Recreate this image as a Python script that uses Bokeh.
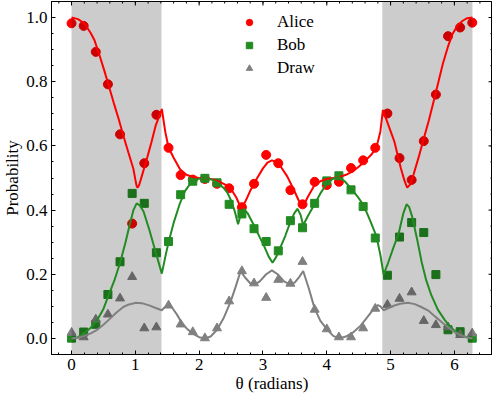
import math
from bokeh.plotting import figure
from bokeh.models import Range1d, FixedTicker, PrintfTickFormatter
from bokeh.embed import file_html
from bokeh.resources import INLINE

# ---------------- data ----------------
theta = [0.00, 0.19, 0.38, 0.57, 0.76, 0.95, 1.14, 1.33, 1.52, 1.71, 1.90, 2.09,
         2.28, 2.47, 2.67, 2.86, 3.05, 3.24, 3.43, 3.62, 3.81, 4.00, 4.19, 4.38,
         4.57, 4.76, 4.95, 5.14, 5.33, 5.52, 5.71, 5.90, 6.09, 6.28]

alice_pts = [0.982, 0.974, 0.893, 0.792, 0.636, 0.358, 0.546, 0.697, 0.594, 0.509,
             0.495, 0.497, 0.482, 0.468, 0.409, 0.482, 0.572, 0.546, 0.462, 0.418,
             0.488, 0.478, 0.488, 0.531, 0.555, 0.594, 0.701, 0.562, 0.494, 0.615,
             0.760, 0.942, 0.969, 0.984]

bob_pts = [0.001, 0.020, 0.044, 0.137, 0.239, 0.452, 0.421, 0.267, 0.302, 0.448,
           0.490, 0.499, 0.485, 0.418, 0.388, 0.342, 0.302, 0.273, 0.367, 0.345,
           0.421, 0.491, 0.507, 0.463, 0.411, 0.313, 0.197, 0.316, 0.361, 0.330,
           0.199, 0.027, 0.021, 0.001]

draw_pts = [0.018, 0.004, 0.059, 0.075, 0.125, 0.192, 0.032, 0.035, 0.103, 0.044,
            0.020, 0.001, 0.032, 0.116, 0.210, 0.172, 0.127, 0.183, 0.171, 0.239,
            0.090, 0.029, 0.004, 0.004, 0.032, 0.093, 0.105, 0.124, 0.144, 0.055,
            0.042, 0.035, 0.011, 0.016]

alice_curve_x = [0.0, 0.1, 0.2, 0.3, 0.36, 0.43, 0.51, 0.58, 0.66, 0.74, 0.81, 0.89,
                 0.97, 1.0, 1.02, 1.035, 1.06, 1.1, 1.17, 1.25, 1.32, 1.415, 1.47,
                 1.52, 1.6, 1.7, 1.8, 1.9, 2.0, 2.1, 2.2, 2.3, 2.4, 2.5, 2.58, 2.66,
                 2.72, 2.8, 2.9, 3.0, 3.07, 3.14, 3.21, 3.28, 3.38, 3.48, 3.56, 3.62,
                 3.7, 3.8, 3.9, 4.0, 4.1, 4.2, 4.3, 4.4, 4.5, 4.6, 4.7, 4.78, 4.84,
                 4.88, 4.96, 5.06, 5.16, 5.22, 5.26, 5.3, 5.36, 5.44, 5.52, 5.6, 5.67,
                 5.75, 5.82, 5.9, 5.97, 6.05, 6.13, 6.2, 6.283]
alice_curve_y = [1.0, 0.995, 0.982, 0.952, 0.929, 0.888, 0.837, 0.79, 0.735, 0.683,
                 0.633, 0.58, 0.528, 0.495, 0.475, 0.47, 0.478, 0.505, 0.552, 0.61,
                 0.664, 0.715, 0.643, 0.595, 0.563, 0.527, 0.51, 0.503, 0.50, 0.499,
                 0.496, 0.49, 0.48, 0.466, 0.44, 0.405, 0.425, 0.46, 0.497, 0.53,
                 0.548, 0.555, 0.55, 0.535, 0.505, 0.465, 0.43, 0.408, 0.44, 0.475,
                 0.49, 0.497, 0.50, 0.503, 0.51, 0.52, 0.535, 0.553, 0.573, 0.597,
                 0.645, 0.712, 0.668, 0.613, 0.531, 0.49, 0.47, 0.478, 0.511, 0.565,
                 0.623, 0.68, 0.735, 0.80, 0.857, 0.91, 0.949, 0.975, 0.99, 0.998, 1.0]

bob_curve_x = [0.0, 0.1, 0.2, 0.3, 0.4, 0.5, 0.58, 0.67, 0.76, 0.84, 0.91, 0.97, 1.02,
               1.07, 1.13, 1.22, 1.31, 1.415, 1.47, 1.52, 1.6, 1.7, 1.78, 1.86, 1.93,
               2.0, 2.1, 2.2, 2.3, 2.38, 2.44, 2.5, 2.56, 2.61, 2.65, 2.7, 2.76, 2.87,
               2.95, 3.02, 3.09, 3.15, 3.21, 3.28, 3.35, 3.43, 3.49, 3.54, 3.59, 3.63,
               3.7, 3.81, 3.9, 3.99, 4.09, 4.19, 4.28, 4.37, 4.48, 4.58, 4.68, 4.78,
               4.84, 4.89, 4.96, 5.03, 5.13, 5.2, 5.25, 5.29, 5.34, 5.42, 5.49, 5.56,
               5.64, 5.74, 5.85, 5.95, 6.05, 6.17, 6.283]
bob_curve_y = [0.0, 0.004, 0.016, 0.033, 0.057, 0.092, 0.134, 0.18, 0.235, 0.295,
               0.353, 0.40, 0.421, 0.415, 0.395, 0.338, 0.275, 0.202, 0.255, 0.30,
               0.36, 0.422, 0.46, 0.482, 0.492, 0.498, 0.50, 0.495, 0.484, 0.47,
               0.455, 0.43, 0.395, 0.356, 0.385, 0.404, 0.39, 0.348, 0.315, 0.287,
               0.255, 0.236, 0.255, 0.287, 0.32, 0.363, 0.39, 0.404, 0.385, 0.353,
               0.38, 0.419, 0.452, 0.48, 0.497, 0.503, 0.49, 0.47, 0.443, 0.414,
               0.367, 0.317, 0.26, 0.20, 0.235, 0.275, 0.33, 0.39, 0.418, 0.41,
               0.378, 0.305, 0.235, 0.18, 0.134, 0.09, 0.057, 0.033, 0.016, 0.005, 0.0]

draw_curve_x = [0.0, 0.1, 0.2, 0.3, 0.4, 0.5, 0.6, 0.7, 0.81, 0.9, 1.01, 1.1, 1.217,
                1.32, 1.415, 1.46, 1.52, 1.58, 1.65, 1.725, 1.8, 1.9, 2.0, 2.09, 2.18,
                2.28, 2.38, 2.49, 2.57, 2.65, 2.72, 2.8, 2.87, 2.95, 3.05, 3.14, 3.23,
                3.33, 3.43, 3.5, 3.57, 3.63, 3.72, 3.81, 3.9, 4.01, 4.1, 4.19, 4.3,
                4.42, 4.53, 4.63, 4.72, 4.8, 4.84, 4.89, 4.97, 5.05, 5.15, 5.27, 5.38,
                5.48, 5.59, 5.7, 5.85, 6.0, 6.1, 6.2, 6.283]
draw_curve_y = [0.0, 0.002, 0.008, 0.016, 0.027, 0.043, 0.061, 0.08, 0.098, 0.106,
                0.111, 0.11, 0.103, 0.095, 0.088, 0.097, 0.105, 0.095, 0.075, 0.05,
                0.032, 0.015, 0.004, 0.0, 0.006, 0.027, 0.062, 0.113, 0.16, 0.21,
                0.19, 0.172, 0.168, 0.178, 0.20, 0.212, 0.20, 0.178, 0.168, 0.175,
                0.192, 0.21, 0.155, 0.093, 0.055, 0.027, 0.008, 0.0, 0.006, 0.02,
                0.04, 0.065, 0.088, 0.104, 0.10, 0.088, 0.095, 0.102, 0.108, 0.111,
                0.107, 0.098, 0.087, 0.068, 0.043, 0.02, 0.01, 0.003, 0.0]

shade_left = [0.0, 4.87]
shade_right = [1.41, 6.283]

x_lo, x_hi = -0.314, 6.597
y_lo, y_hi = -0.05, 1.05
x_ticks = [0, 1, 2, 3, 4, 5, 6]
y_ticks = [0.0, 0.2, 0.4, 0.6, 0.8, 1.0]
x_minor = [round(-0.2 + 0.2 * i, 2) for i in range(34)]
y_minor = [round(-0.05 + 0.05 * i, 2) for i in range(23)]

FONT = "Liberation Serif"
FS = "17px"

# ---------------- figure ----------------
p = figure(width=492, height=395, x_range=Range1d(x_lo, x_hi),
           y_range=Range1d(y_lo, y_hi), output_backend="svg",
           toolbar_location=None, min_border_left=38, min_border_right=0,
           min_border_top=1, min_border_bottom=40)
p.grid.visible = False
p.outline_line_color = "black"
p.outline_line_width = 1
p.background_fill_color = "white"
p.border_fill_color = "white"

p.xaxis.ticker = FixedTicker(ticks=x_ticks, minor_ticks=x_minor)
p.yaxis.ticker = FixedTicker(ticks=y_ticks, minor_ticks=y_minor)
p.yaxis.formatter = PrintfTickFormatter(format="%.1f")
for ax in (p.xaxis[0], p.yaxis[0]):
    ax.major_tick_in = 4
    ax.major_tick_out = 0
    ax.minor_tick_in = 2
    ax.minor_tick_out = 0
    ax.axis_line_color = "black"
    ax.major_tick_line_color = "black"
    ax.minor_tick_line_color = "black"
    ax.major_label_text_font = FONT
    ax.major_label_text_color = "black"
    ax.major_label_text_font_size = FS
    ax.major_label_standoff = 4
    ax.axis_label_text_font = FONT
    ax.axis_label_text_font_size = FS
    ax.axis_label_text_font_style = "normal"
    ax.axis_label_text_color = "black"
    ax.axis_label_standoff = 1
p.xaxis.axis_label = "θ (radians)"
p.yaxis.axis_label = "Probability"

# markers (under the shading)
p.scatter(theta, alice_pts, marker="circle", size=9, fill_color="#ff0000",
          line_color="#ff0000", legend_label="Alice")
p.scatter(theta, bob_pts, marker="square", size=8, fill_color="#228b22",
          line_color="#228b22", legend_label="Bob")
p.scatter(theta, draw_pts, marker="triangle", size=9, fill_color="#808080",
          line_color="#808080", legend_label="Draw")

# shaded regions
p.quad(left=shade_left, right=shade_right, bottom=-1, top=2,
       fill_color="black", fill_alpha=0.2, line_color=None)

# theory curves (above the shading)
p.line(alice_curve_x, alice_curve_y, line_color="#ff0000", line_width=2)
p.line(bob_curve_x, bob_curve_y, line_color="#228b22", line_width=2)
p.line(draw_curve_x, draw_curve_y, line_color="#808080", line_width=2)

# inward ticks on the top and right frame edges
p.ray(x=[x_hi] * len(y_ticks), y=y_ticks, length=4, length_units="screen",
      angle=math.pi, line_color="black", line_width=1)
p.ray(x=[x_hi] * len(y_minor), y=y_minor, length=2, length_units="screen",
      angle=math.pi, line_color="black", line_width=1)
p.ray(x=x_ticks, y=[y_hi] * len(x_ticks), length=4, length_units="screen",
      angle=-math.pi / 2, line_color="black", line_width=1)
p.ray(x=x_minor, y=[y_hi] * len(x_minor), length=2, length_units="screen",
      angle=-math.pi / 2, line_color="black", line_width=1)

lg = p.legend[0]
lg.location = (190, 276)
lg.border_line_color = None
lg.background_fill_alpha = 0
lg.label_text_font = FONT
lg.label_text_font_size = FS
lg.label_text_color = "black"
lg.glyph_width = 16
lg.glyph_height = 20
lg.label_height = 20
lg.spacing = 3
lg.padding = 0
lg.margin = 0
lg.label_standoff = 20

open("out.html", "w").write(file_html(p, INLINE, title="plot"))
